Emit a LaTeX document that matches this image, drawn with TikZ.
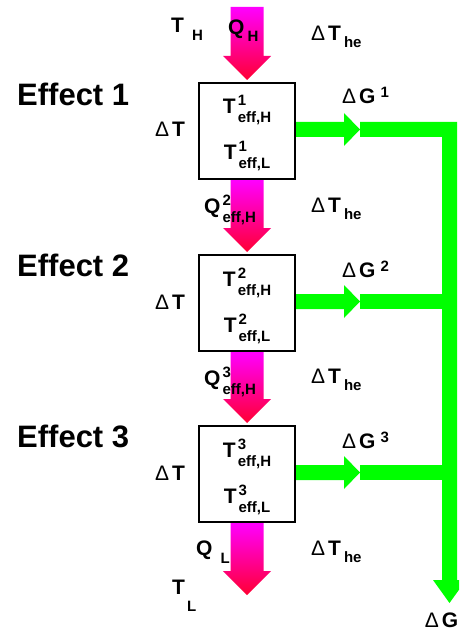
\documentclass[tikz,border=0pt]{standalone}
\usepackage{fontspec}
\setmainfont{Liberation Sans}
\usetikzlibrary{calc}
\definecolor{heattop}{RGB}{255,0,255}
\definecolor{heatbot}{RGB}{255,0,51}
\definecolor{gaingreen}{RGB}{0,255,0}
\newcommand\sfnt{\fontsize{15}{15}\selectfont}
\newcommand\lab[4]{#1\kern#3\raisebox{-#4}{\sfnt #2}}
\newcommand\labss[3]{#1\kern2pt\rlap{\raisebox{8pt}{\sfnt #2}}\raisebox{-9pt}{\sfnt #3}}
\newcommand\dl{{\mdseries\char"0394}\kern3pt}
% heat flow arrow, from top point #1 down to tip #2
\newcommand\heatflow[2]{%
  \shade[heat] ($(#1)+(-16.5,0)$) -- ($(#2)+(-16.5,-24)$) -- ($(#2)+(-24,-24)$) -- (#2)
    -- ($(#2)+(24,-24)$) -- ($(#2)+(16.5,-24)$) -- ($(#1)+(16.5,0)$) -- cycle;}
% work arrow leaving an effect box at #1
\newcommand\gainflow[1]{%
  \fill[gain] (#1) +(0,-7.5) -- +(48,-7.5) -- +(48,-16.5) -- +(64,0) -- +(48,16.5) -- +(48,7.5) -- +(0,7.5) -- cycle;}
\tikzset{
  effbox/.style={draw,line width=2pt,fill=white,minimum width=96pt,minimum height=96pt,inner sep=0pt},
  lbl/.style={inner sep=0pt,anchor=base west,font=\bfseries\fontsize{21}{24}\selectfont},
  efftitle/.style={inner sep=0pt,anchor=base west,font=\bfseries\fontsize{31}{34}\selectfont},
  heat/.style={top color=heattop,bottom color=heatbot,draw=none},
  gain/.style={fill=gaingreen,draw=none}
}
\begin{document}
\begin{tikzpicture}[x=1pt,y=-1pt]
\useasboundingbox (0,0) rectangle (459,631);
\clip (0,0) rectangle (459,631);
% effects
\node[effbox] (eff1) at (247,131) {};
\node[effbox] (eff2) at (247,303) {};
\node[effbox] (eff3) at (247,474) {};
\node[efftitle] (e1) at (17,106) {Effect 1};
\node[efftitle] (e2) at (17,276) {Effect 2};
\node[efftitle] (e3) at (17,447) {Effect 3};
\foreach \i in {1,2,3}{
  \node[lbl,anchor=base] (th\i) at ($(eff\i.center)+(0,-17)$) {\labss{T}{\i}{eff,H}};
  \node[lbl,anchor=base] (tl\i) at ($(eff\i.center)+(0,29)$) {\labss{T}{\i}{eff,L}};
  \node[lbl] (dT\i) at ($(eff\i.west)+(-43,6)$) {\dl T};
}
% heat
\coordinate (qin) at (247,7);
\coordinate (qout) at (247,595);
\coordinate (tip1) at ($(eff1.north)+(0,-2)$);
\coordinate (tip2) at ($(eff2.north)+(0,-2)$);
\coordinate (tip3) at ($(eff3.north)+(0,-2)$);
\heatflow{qin}{tip1}
\heatflow{eff1.south}{tip2}
\heatflow{eff2.south}{tip3}
\heatflow{eff3.south}{qout}
\node[lbl] (TH) at (171,33) {\lab{T}{H}{8pt}{8pt}};
\node[lbl] (QH) at (228,35) {\lab{Q}{H}{3pt}{7pt}};
\node[lbl] (Q2) at (204,213) {\labss{Q}{2}{eff,H}};
\node[lbl] (Q3) at (204,385) {\labss{Q}{3}{eff,H}};
\node[lbl] (QL) at (196,555) {\lab{Q}{L}{8pt}{8pt}};
\node[lbl] (TL) at (172,594) {\lab{T}{L}{2pt}{17pt}};
\node[lbl] (he0) at (311,41) {\dl\lab{T}{he}{3pt}{7pt}};
\node[lbl] (he1) at (311,212) {\dl\lab{T}{he}{3pt}{7pt}};
\node[lbl] (he2) at (311,383) {\dl\lab{T}{he}{3pt}{7pt}};
\node[lbl] (he3) at (311,555) {\dl\lab{T}{he}{3pt}{7pt}};
% work
\coordinate (sink) at (449.5,603);
\gainflow{$(eff1.east)+(0,-1.5)$}
\gainflow{$(eff2.east)+(0,-1.5)$}
\gainflow{$(eff3.east)+(0,-1.5)$}
\fill[gain] (360,122) -- (457,122) -- (457,580) -- (466,580) -- (sink) -- (433,580) -- (442,580) -- (442,137) -- (360,137) -- cycle;
\fill[gain] (360,294) rectangle (442,309);
\fill[gain] (360,465) rectangle (442,480);
\foreach \i/\y in {1/104,2/277,3/448}
  \node[lbl] (dG\i) at (342,\y) {\dl G\kern5pt\raisebox{6pt}{\sfnt\i}};
\node[lbl,anchor=base] (dG) at ($(sink)+(-8,24)$) {\dl G};
\end{tikzpicture}
\end{document}
